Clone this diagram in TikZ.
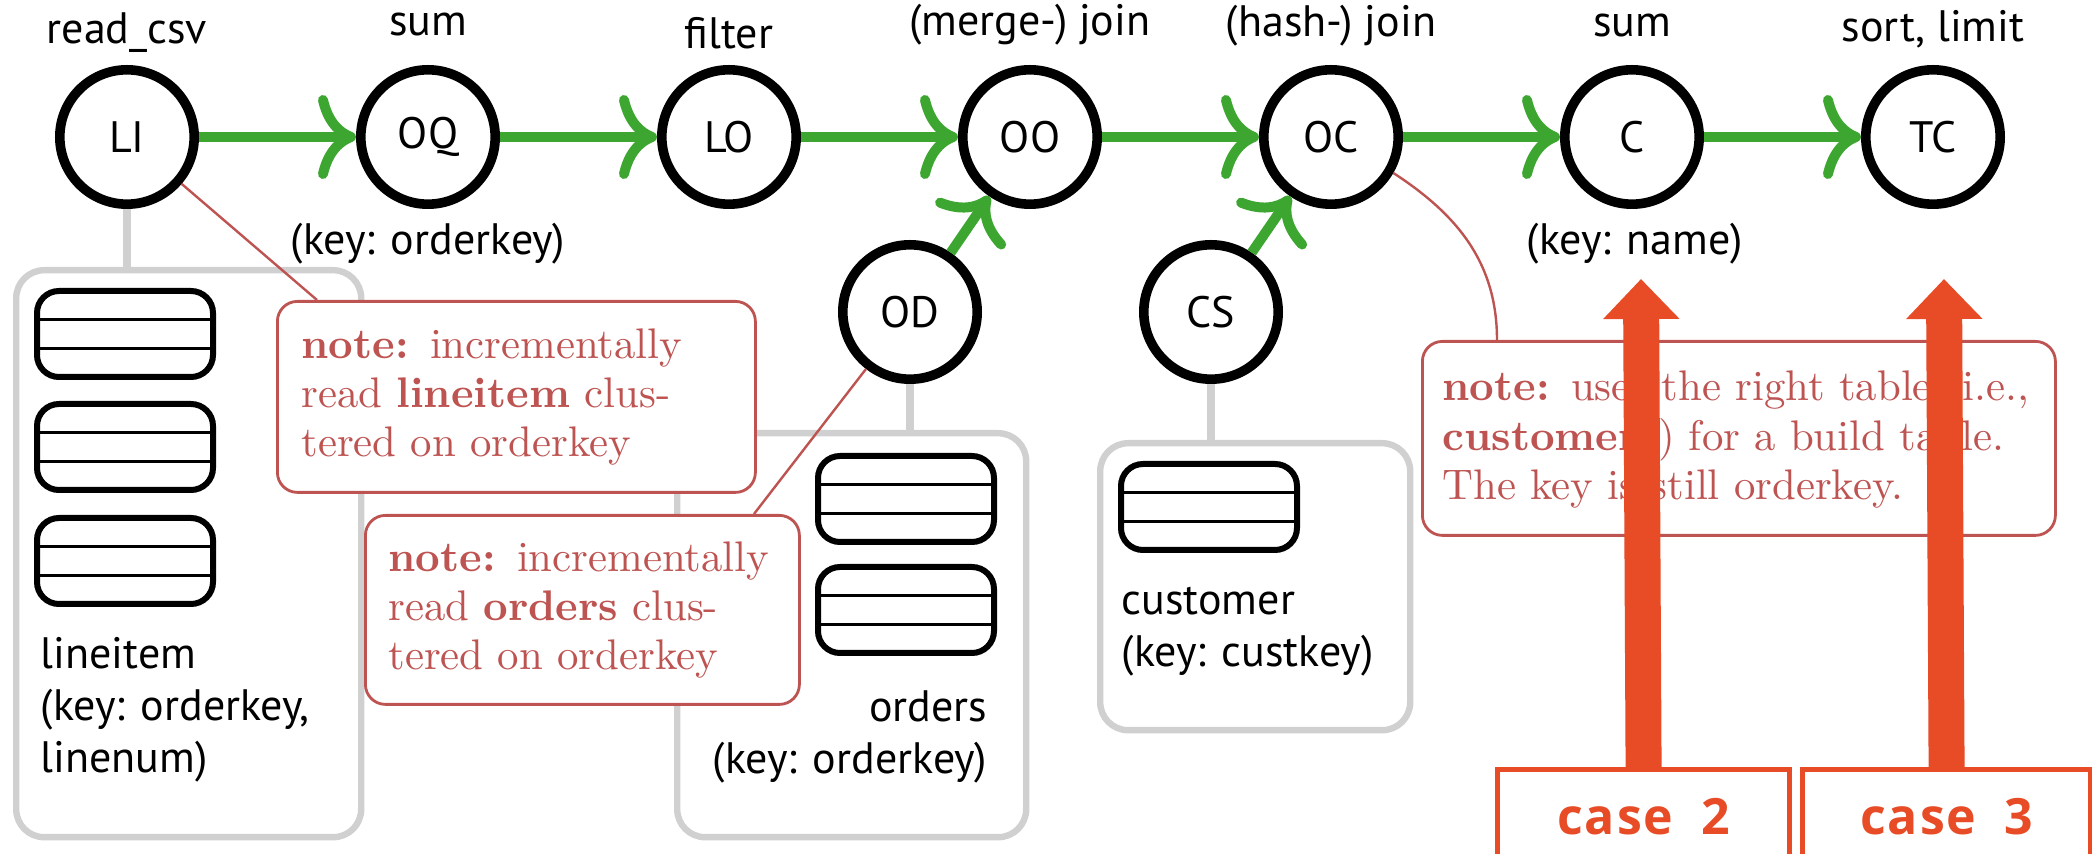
\documentclass[tikz,border=0pt]{standalone}
\usepackage{fontspec}
\setsansfont{PT Sans}
\newfontfamily\casefont{Open Sans}[LetterSpace=4]
\usetikzlibrary{arrows.meta}
\definecolor{flowgreen}{RGB}{60,166,48}
\definecolor{panelgray}{RGB}{208,208,208}
\definecolor{notered}{RGB}{190,84,82}
\definecolor{caseorange}{RGB}{231,76,39}
\begin{document}
\begin{tikzpicture}[x=0.25pt,y=-0.25pt,
  opnode/.style={circle, draw=black, line width=2.4pt, minimum size=33.6pt, inner sep=0pt,
    fill=white, font=\sffamily\fontsize{11}{13}\selectfont},
  oplabel/.style={anchor=base, inner sep=0pt, font=\sffamily\fontsize{11}{13}\selectfont},
  flow/.style={draw=flowgreen, line width=2.5pt,
    -{Computer Modern Rightarrow[length=9.5pt,width=21pt,round]}},
  panelbox/.style={draw=panelgray, line width=1.6pt, rounded corners=7pt, fill=white,
    anchor=north west, inner sep=0pt},
  feed/.style={draw=panelgray, line width=2.2pt},
  paneltext/.style={inner sep=0pt, font=\sffamily\fontsize{11}{13}\selectfont},
  notebox/.style={draw=notered, line width=0.7pt, rounded corners=5pt, fill=white,
    text=notered, anchor=north west, inner ysep=0pt, align=left,
    font=\fontsize{10.7}{12.3}\selectfont},
  notelink/.style={draw=notered, line width=0.6pt},
  casebox/.style={draw=caseorange, line width=1.3pt, fill=white, anchor=north west,
    inner sep=0pt, text=caseorange, font=\casefont\bfseries\fontsize{12.5}{15}\selectfont},
  bigarrow/.style={draw=caseorange, line width=9pt, -{Triangle[length=10pt,width=18.5pt]}},
  dbtable/.pic={
    \draw[line width=1.5pt, rounded corners=5.5pt] (0,0) rectangle (176,86);
    \draw[line width=0.7pt] (0,28.7) -- (176,28.7) (0,57.3) -- (176,57.3);
  }
]
\useasboundingbox (0,0) rectangle (2092,854);
\clip (0,0) rectangle (2092,854);

% table panels
\node[panelbox, minimum width=86.25pt, minimum height=141.75pt] (lineitembox) at (13,267) {};
\node[panelbox, minimum width=87.25pt, minimum height=101pt] (ordersbox) at (674,430) {};
\node[panelbox, minimum width=77.5pt, minimum height=71.75pt] (customerbox) at (1097,440) {};

\pic at (37,291) {dbtable};
\pic at (37,404) {dbtable};
\pic at (37,518) {dbtable};
\pic at (818,456) {dbtable};
\pic at (818,567) {dbtable};
\pic at (1121,464) {dbtable};

\node[paneltext, anchor=west, align=left] (litext) at (40,710) {lineitem\\(key: orderkey,\\linenum)};
\node[paneltext, anchor=east, align=right] (odtext) at (988,737) {orders\\(key: orderkey)};
\node[paneltext, anchor=west, align=left] (cstext) at (1121,632) {customer\\(key: custkey)};

% operators
\node[opnode] (LI) at (127,137) {LI};
\node[opnode] (OQ) at (428,137) {OQ};
\node[opnode] (LO) at (729,137) {LO};
\node[opnode] (OO) at (1030,137) {OO};
\node[opnode] (OC) at (1331,137) {OC};
\node[opnode] (C)  at (1632,137) {C};
\node[opnode] (TC) at (1933,137) {TC};
\node[opnode] (OD) at (910,312) {OD};
\node[opnode] (CS) at (1211,312) {CS};

\node[oplabel] (lbLI) at (127,44) {read\_csv};
\node[oplabel] (lbOQ) at (428,36) {sum};
\node[oplabel] (lbLO) at (729,49) {filter};
\node[oplabel] (lbOO) at (1030,36) {(merge-) join};
\node[oplabel] (lbOC) at (1331,37) {(hash-) join};
\node[oplabel] (lbC)  at (1632,37) {sum};
\node[oplabel] (lbTC) at (1933,42) {sort, limit};
\node[oplabel, anchor=center] (keyOQ) at (428,244) {(key: orderkey)};
\node[oplabel, anchor=center] (keyC) at (1635,244) {(key: name)};

% scans feeding from tables
\draw[feed] (LI.south) -- (LI.south |- lineitembox.north);
\draw[feed] (OD.south) -- (OD.south |- ordersbox.north);
\draw[feed] (CS.south) -- (CS.south |- customerbox.north);

% data flow
\draw[flow] (LI) -- (OQ);
\draw[flow] (OQ) -- (LO);
\draw[flow] (LO) -- (OO);
\draw[flow] (OO) -- (OC);
\draw[flow] (OC) -- (C);
\draw[flow] (C) -- (TC);
\draw[flow] (OD) -- (OO);
\draw[flow] (CS) -- (OC);

% notes
\coordinate (n1hook) at (317,300);
\draw[notelink] (LI) -- (n1hook);
\node[notebox, inner xsep=6pt, text width=107.5pt, minimum height=47.75pt] (n1) at (276,300)
  {\textbf{note:} incrementally\\read \textbf{lineitem} clus-\\tered on orderkey};

\coordinate (n2hook) at (754,514);
\draw[notelink] (OD) -- (n2hook);
\node[notebox, inner xsep=5.75pt, text width=97pt, minimum height=47.25pt] (n2) at (364,514)
  {\textbf{note:} incrementally\\read \textbf{orders} clus-\\tered on orderkey};

\coordinate (n3hook) at (1497,340);
\draw[notelink] (OC.-30) to[out=-33,in=90] (n3hook);
\node[notebox, inner xsep=5pt, text width=148.25pt, minimum height=48.5pt] (n3) at (1421,340)
  {\textbf{note:} uses the right table (i.e.,\\\textbf{customers}) for a build table.\\The key is still orderkey.};

% cases
\node[casebox, minimum width=73pt, minimum height=23.5pt] (case2) at (1495,767) {case\hspace{7pt}2};
\node[casebox, minimum width=72pt, minimum height=23.5pt] (case3) at (1800,767) {case\hspace{7pt}3};
\coordinate (tip2) at (1641,279);
\coordinate (tip3) at (1944,279);
\draw[bigarrow] (case2.north) -- (tip2);
\draw[bigarrow] (case3.north) -- (tip3);
\end{tikzpicture}
\end{document}
